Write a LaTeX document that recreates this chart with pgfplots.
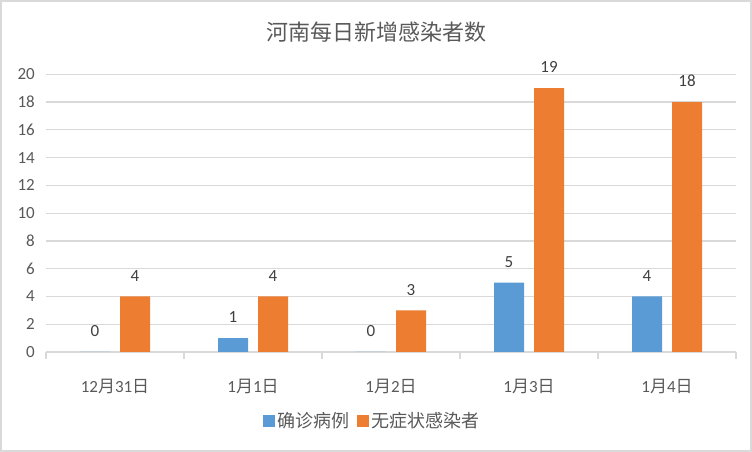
\documentclass[border=0pt]{standalone}
\usepackage{pgfplots}
\pgfplotsset{compat=1.18}
\usepackage{fontspec}
\setmainfont{Carlito}
\newfontfamily\cjk{Noto Sans CJK SC}
\definecolor{cblue}{HTML}{5B9BD5}
\definecolor{corange}{HTML}{ED7D31}
\definecolor{tickgray}{HTML}{595959}
\definecolor{labgray}{HTML}{404040}
\definecolor{gridgray}{HTML}{D9D9D9}
\begin{document}
\begin{tikzpicture}[x=1pt,y=1pt]
\path[use as bounding box] (0,0) rectangle (752,452);
\draw[gridgray, line width=2pt] (1,1) rectangle (751,451);
\node[font=\cjk\fontsize{22}{26}\selectfont, text=tickgray] at (376,420) {河南每日新增感染者数};
\begin{axis}[
  at={(46pt,100pt)}, anchor=south west,
  scale only axis, width=690pt, height=277.7pt,
  xmin=-0.5, xmax=4.5, ymin=0, ymax=20,
  ytick={0,2,...,20},
  xtick={0,...,4},
  xticklabels={12{\cjk 月}31{\cjk 日},1{\cjk 月}1{\cjk 日},1{\cjk 月}2{\cjk 日},1{\cjk 月}3{\cjk 日},1{\cjk 月}4{\cjk 日}},
  minor xtick={-0.5,0.5,...,4.5},
  tick align=outside,
  major tick length=0pt,
  minor tick length=7pt,
  minor tick style={gridgray, line width=1.2pt},
  ymajorgrids, grid style={gridgray, line width=1.2pt},
  axis lines*=left,
  y axis line style={draw=none},
  x axis line style={gridgray, line width=1.5pt, -},
  /pgf/number format/assume math mode=true,
  ticklabel style={font=\fontsize{17}{20}\selectfont, text=tickgray, inner sep=0pt},
  yticklabel style={xshift=-11pt},
  xticklabel style={yshift=-27pt},
  bar width=30pt,
  nodes near coords,
  every node near coord/.append style={font=\fontsize{17}{20}\selectfont, text=labgray, inner sep=0pt, yshift=15pt},
  legend style={at={(0.473,-0.248)}, anchor=center, draw=none, fill=none,
    legend columns=2, font=\cjk\fontsize{18}{20}\selectfont, text=tickgray,
    /tikz/every even column/.append style={column sep=6pt}},
  legend image code/.code={\fill[#1] (0pt,-6pt) rectangle (12pt,6pt);},
  clip=false,
]
\addplot[ybar, bar shift=-20pt, fill=cblue, draw=none,
  every node near coord/.append style={xshift=-20pt}] coordinates {(0,0) (1,1) (2,0) (3,5) (4,4)};
\addplot[ybar, bar shift=20pt, fill=corange, draw=none,
  every node near coord/.append style={xshift=20pt}] coordinates {(0,4) (1,4) (2,3) (3,19) (4,18)};
\legend{确诊病例,无症状感染者}
\end{axis}
\end{tikzpicture}
\end{document}
